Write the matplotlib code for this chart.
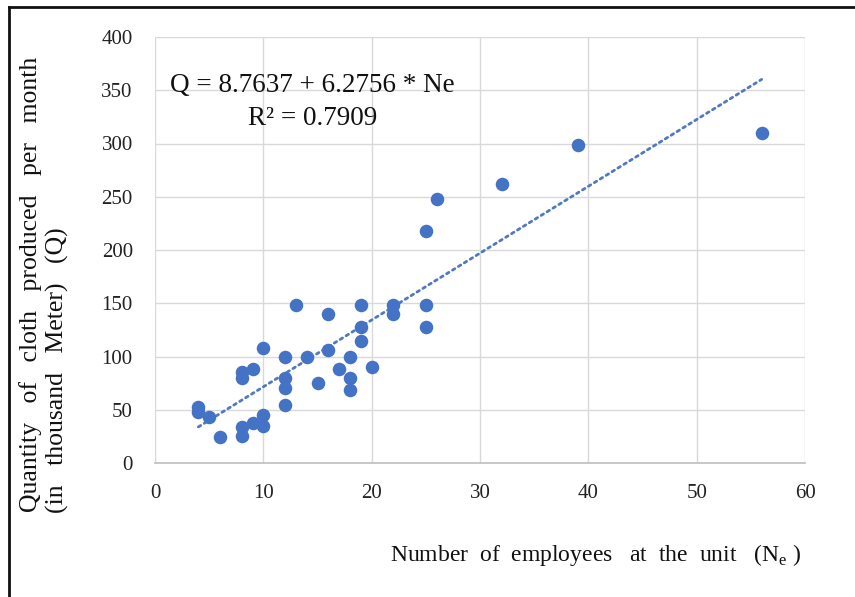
import matplotlib
matplotlib.use("Agg")
import matplotlib.pyplot as plt
import numpy as np
from matplotlib.lines import Line2D

# Data
employees = [4, 4, 5, 6, 8, 8, 9, 10, 10, 8, 8, 9, 10, 12, 12, 12, 12, 13, 14, 15,
             16, 16, 17, 18, 18, 18, 19, 19, 19, 20, 22, 22, 25, 25, 25, 26, 32, 39, 56]
quantity = [53, 48, 43, 24, 34, 25, 38, 45, 35, 85, 80, 88, 108, 100, 80, 70, 54, 148, 100, 75,
            140, 106, 88, 100, 80, 69, 148, 128, 115, 90, 148, 140, 148, 128, 218, 248, 262, 299, 310]

intercept = 8.7637
slope = 6.2756
r_squared = 0.7909

x_ticks = [0, 10, 20, 30, 40, 50, 60]
y_ticks = [0, 50, 100, 150, 200, 250, 300, 350, 400]

serif = ["Liberation Serif", "DejaVu Serif"]
plt.rcParams["font.family"] = serif

fig = plt.figure(figsize=(8.55, 5.97), dpi=100)
ax = fig.add_axes([155 / 855, 1 - 463 / 597, (805 - 155) / 855, (463 - 37) / 597])

ax.scatter(employees, quantity, s=95, color="#4472C4", zorder=3, linewidths=0)

xs = np.array([min(employees), max(employees)])
ax.plot(xs, intercept + slope * xs, linestyle=(0, (1, 1.5)), color="#5079c2",
        linewidth=2.0, zorder=2, dash_capstyle="round")

ax.set_xlim(0, 60)
ax.set_ylim(0, 400)
ax.set_xticks(x_ticks)
ax.set_yticks(y_ticks)
ax.tick_params(axis="both", length=0, labelsize=15, colors="#222222")
ax.tick_params(axis="x", pad=15)
ax.tick_params(axis="y", pad=16)
ax.grid(True, color="#d9d9d9", linewidth=1)
ax.set_axisbelow(True)
for side in ["left", "right", "top"]:
    ax.spines[side].set_visible(False)
ax.spines["bottom"].set_color("#bfbfbf")
ax.spines["bottom"].set_linewidth(1.2)

fig.text(312 / 855, 1 - 86 / 597, f"Q = {intercept} + {slope} * Ne", fontsize=19.5,
         ha="center", va="center", color="#111111")
fig.text(313 / 855, 1 - 119 / 597, f"R² = {r_squared}", fontsize=19.5, ha="center",
         va="center", color="#111111")

fig.text(596 / 855, 1 - 555 / 597, "Number  of  employees   at  the  unit   (N$_\\mathregular{e}$ )",
         fontsize=17, ha="center", va="center", color="#111111")
fig.text(31 / 855, 1 - 284 / 597, "Quantity   of   cloth   produced   per   month",
         fontsize=18.5, rotation=90, ha="center", va="center", color="#111111")
fig.text(57 / 855, 1 - 370 / 597, "(in   thousand   Meter)   (Q)",
         fontsize=18.5, rotation=90, ha="center", va="center", color="#111111")

# frame of the figure (left and top edges visible)
fig.add_artist(Line2D([9 / 855, 9 / 855], [0, 1 - 7 / 597], transform=fig.transFigure,
                      color="#111111", linewidth=2))
fig.add_artist(Line2D([9 / 855, 1], [1 - 7 / 597, 1 - 7 / 597], transform=fig.transFigure,
                      color="#111111", linewidth=2))

fig.savefig("out.png", dpi=100)
